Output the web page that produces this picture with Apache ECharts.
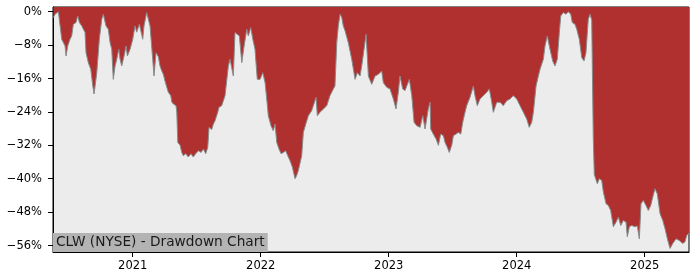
<!DOCTYPE html>
<html>
<head>
<meta charset="utf-8">
<script src="https://cdn.jsdelivr.net/npm/echarts@6/dist/echarts.min.js"></script>
<style>html,body{margin:0;padding:0;background:#fff;}#c{width:700px;height:280px;}</style>
</head>
<body>
<div id="c"></div>
<script>
// Dates as decimal years, drawdown in percent
const years = [
2020.380,2020.393,2020.419,2020.432,2020.445,2020.458,2020.471,2020.479,2020.492,2020.510,
2020.523,2020.536,2020.557,2020.570,2020.583,2020.602,2020.614,2020.627,2020.635,2020.653,
2020.672,2020.688,2020.698,2020.719,2020.739,2020.758,2020.770,2020.791,2020.809,2020.823,
2020.836,2020.848,2020.862,2020.875,2020.891,2020.901,2020.914,2020.932,2020.948,2020.958,
2020.979,2021.000,2021.018,2021.031,2021.052,2021.078,2021.088,2021.109,2021.122,2021.135,
2021.156,2021.166,2021.182,2021.200,2021.213,2021.227,2021.239,2021.252,2021.266,2021.278,
2021.297,2021.305,2021.317,2021.338,2021.344,2021.352,2021.370,2021.383,2021.395,2021.414,
2021.434,2021.455,2021.473,2021.492,2021.513,2021.534,2021.552,2021.570,2021.586,2021.596,
2021.617,2021.630,2021.643,2021.664,2021.674,2021.695,2021.721,2021.747,2021.760,2021.773,
2021.786,2021.799,2021.813,2021.833,2021.852,2021.870,2021.891,2021.903,2021.922,2021.938,
2021.955,2021.973,2021.995,2022.016,2022.034,2022.052,2022.059,2022.080,2022.098,2022.112,
2022.125,2022.143,2022.159,2022.177,2022.195,2022.211,2022.229,2022.247,2022.268,2022.281,
2022.294,2022.307,2022.320,2022.333,2022.352,2022.372,2022.398,2022.411,2022.432,2022.442,
2022.463,2022.489,2022.516,2022.541,2022.567,2022.580,2022.594,2022.606,2022.620,2022.633,
2022.645,2022.659,2022.684,2022.711,2022.737,2022.755,2022.776,2022.789,2022.807,2022.823,
2022.841,2022.867,2022.893,2022.919,2022.945,2022.958,2022.984,2023.010,2023.036,2023.057,
2023.075,2023.088,2023.109,2023.127,2023.161,2023.180,2023.198,2023.219,2023.245,2023.266,
2023.284,2023.309,2023.323,2023.328,2023.348,2023.370,2023.388,2023.406,2023.427,2023.440,
2023.458,2023.473,2023.492,2023.505,2023.526,2023.544,2023.563,2023.578,2023.596,2023.609,
2023.635,2023.661,2023.674,2023.692,2023.713,2023.739,2023.766,2023.786,2023.805,2023.817,
2023.844,2023.870,2023.895,2023.922,2023.948,2023.973,2024.000,2024.026,2024.052,2024.078,
2024.098,2024.117,2024.130,2024.151,2024.169,2024.182,2024.208,2024.221,2024.239,2024.260,
2024.281,2024.299,2024.317,2024.333,2024.344,2024.364,2024.385,2024.403,2024.422,2024.434,
2024.455,2024.469,2024.489,2024.508,2024.526,2024.541,2024.559,2024.573,2024.586,2024.598,
2024.606,2024.630,2024.645,2024.664,2024.677,2024.698,2024.716,2024.734,2024.755,2024.776,
2024.794,2024.813,2024.833,2024.854,2024.864,2024.880,2024.898,2024.924,2024.942,2024.958,
2024.971,2024.989,2025.010,2025.028,2025.047,2025.063,2025.080,2025.098,2025.120,2025.141,
2025.159,2025.177,2025.198,2025.219,2025.245,2025.270,2025.297,2025.315,2025.328,2025.341,
2025.346
];
const drawdown = [
-1.4,-0.6,0,0,-6.6,-7,-8.2,-10.6,-8.2,-6.6,
-5.8,-3,-2.6,-1,-2.6,-3.4,-4.2,-4.9,-9.8,-12.2,
-13.8,-17.8,-19.7,-14.6,-6.6,-1.8,-0.6,-3.4,-4.2,-7.4,
-9,-16.2,-13,-11.4,-9,-11.4,-13,-10.6,-8.2,-10.6,
-9,-6.6,-3.4,-4.9,-3,-6.6,-3.4,-0.2,-0.6,-3.4,
-11.4,-15.4,-9.8,-10.8,-13,-14.2,-15,-16.6,-18.1,-19.3,
-20.1,-21.6,-22.1,-22.5,-24,-31.3,-32,-33.7,-34.5,-34,
-34.8,-34,-34.8,-34,-33.3,-33.7,-32.9,-34,-32.5,-27.7,
-28.2,-26.9,-26.1,-24.1,-22.9,-22.5,-20.1,-13,-11.4,-11,
-15.4,-5,-4.6,-5.8,-12.2,-8.2,-4.2,-5.8,-3.8,-6.6,
-9,-16.2,-16.2,-14.6,-17,-22.5,-24.9,-27.3,-28.5,-26.9,
-31.3,-32.9,-34,-33.7,-33.3,-34.5,-35.7,-37.2,-40,-39.2,
-38,-38.4,-34.5,-28.9,-26.9,-24.9,-23.7,-22.5,-20.5,-24.9,
-24.1,-23.3,-22.5,-20.1,-18.5,-17.8,-7.4,-3.4,-0.6,-1.4,
-3.4,-4.6,-7.4,-11.4,-16.2,-14.6,-15.4,-13,-9,-5.4,
-15.4,-17.4,-15.4,-15,-14.2,-17,-18.1,-18.5,-20.9,-23.3,
-19.3,-15.4,-18.5,-18.9,-16.2,-20.1,-26.5,-27.3,-27.7,-24.9,
-28.1,-23.3,-21.7,-28.1,-29.3,-30.5,-32,-29.3,-29.7,-31.3,
-32.5,-33.7,-32,-29.7,-29.3,-28.9,-29.3,-26.5,-24.1,-22.5,
-20.5,-17.8,-20.1,-22.5,-20.9,-20.1,-19.3,-18.5,-21.7,-24.1,
-21.7,-21.7,-22.5,-21.3,-20.9,-20.1,-20.9,-22.5,-24.1,-25.7,
-27.7,-26.5,-24.1,-17.8,-15.4,-13.8,-11.4,-8.2,-5.8,-9,
-11.8,-13,-11.4,-5,-1,-0.2,-0.6,0,-0.6,-2.6,
-3,-4.2,-6.6,-11,-11.8,-9.8,-1.8,-0.6,-2,-30,
-39,-41.2,-40,-40.4,-43.2,-46,-46.4,-47.6,-51.5,-50.4,
-49.2,-51.2,-50,-50.4,-53.9,-51.5,-51.2,-51.5,-51.3,-54.4,
-46,-45.2,-46.4,-47.6,-46.4,-44.4,-42.4,-43.6,-48.4,-50,
-52,-54.4,-56.7,-55.5,-54.4,-54.8,-55.5,-55.1,-53.6,-53.2,
-53
];
const yearTicks = [2021, 2022, 2023, 2024, 2025];
const pctTicks = [0, -8, -16, -24, -32, -40, -48, -56];
const titleText = 'CLW (NYSE) - Drawdown Chart';

const data = years.map((y, i) => [y, drawdown[i]]);
const font = 'DejaVu Sans';
const chart = echarts.init(document.getElementById('c'), null, {renderer: 'canvas'});
chart.setOption({
  animation: false,
  backgroundColor: '#ffffff',
  title: {
    text: titleText,
    left: 53, bottom: 28,
    backgroundColor: '#b3b3b3',
    padding: [2, 3, 2, 3],
    itemGap: 0,
    textStyle: {fontFamily: font, fontSize: 13.7, fontWeight: 'normal', color: '#1a1a1a', lineHeight: 15}
  },
  grid: {
    left: 53, right: 11, top: 7, bottom: 28,
    show: true, backgroundColor: '#ececec', borderColor: '#000', borderWidth: 1
  },
  xAxis: {
    type: 'value', min: 2020.377, max: 2025.346,
    splitLine: {show: false},
    axisLine: {show: true, onZero: false, lineStyle: {color: '#000', width: 1}},
    axisTick: {show: true, length: 5, lineStyle: {color: '#000'}, customValues: yearTicks},
    axisLabel: {customValues: yearTicks, formatter: v => String(Math.round(v)), fontFamily: font, fontSize: 11.5, color: '#000', margin: 8}
  },
  yAxis: {
    type: 'value', min: -57.55, max: 1.13,
    splitLine: {show: false},
    axisLine: {show: true, onZero: false, lineStyle: {color: '#000', width: 1}},
    axisTick: {show: true, length: 5, lineStyle: {color: '#000'}, customValues: pctTicks},
    axisLabel: {customValues: pctTicks, formatter: v => (v < 0 ? '\u2212' + Math.abs(v) : String(v)) + '%', fontFamily: font, fontSize: 11.5, color: '#000', margin: 11}
  },
  series: [{
    type: 'line',
    data: data,
    showSymbol: false,
    smooth: false,
    lineStyle: {color: '#8a8a8a', width: 1},
    areaStyle: {origin: 'end', color: '#b03030', opacity: 1},
    z: 2
  }]
});
</script>
</body>
</html>
